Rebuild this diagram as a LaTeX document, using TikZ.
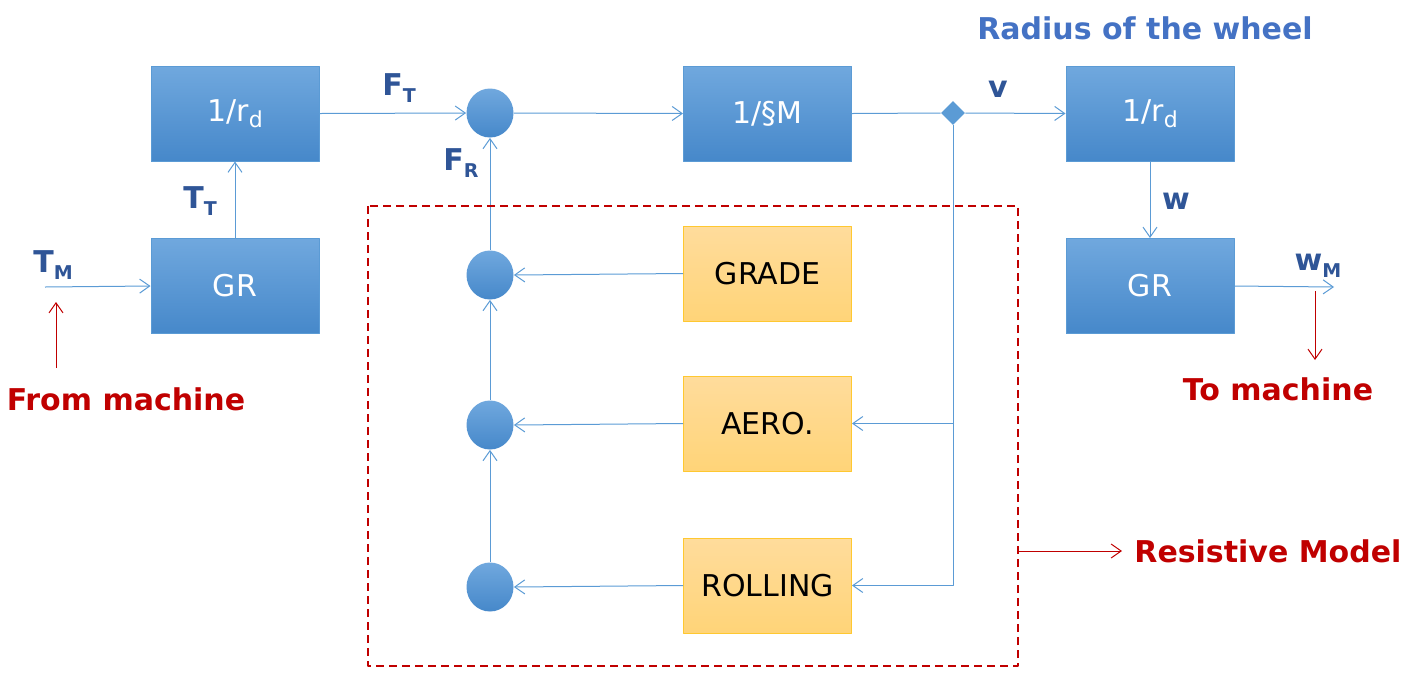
\documentclass[tikz,border=0pt]{standalone}
\usepackage{fontspec}
\setmainfont{DejaVu Sans}
\usetikzlibrary{arrows.meta,shapes.geometric}
\definecolor{lineblue}{HTML}{5B9BD5}
\definecolor{boxtop}{HTML}{70A8DE}
\definecolor{boxbot}{HTML}{4688CA}
\definecolor{yeltop}{HTML}{FFDC9C}
\definecolor{yelbot}{HTML}{FFD478}
\definecolor{yelrim}{HTML}{FFC830}
\definecolor{labblue}{HTML}{2F5597}
\definecolor{radblue}{HTML}{4472C4}
\definecolor{darkred}{HTML}{C00000}
\newcommand{\lbsub}[1]{\raisebox{-0.4ex}{\fontsize{9.5}{10}\selectfont #1}}
\newcommand{\bxsub}[1]{\raisebox{-0.4ex}{\fontsize{11}{12}\selectfont #1}}
\tikzset{
  bluebox/.style={rectangle, draw=lineblue, line width=0.5pt, top color=boxtop, bottom color=boxbot,
    minimum width=84pt, minimum height=47.5pt, inner sep=0pt, text=white, font=\fontsize{15}{18}\selectfont},
  yelbox/.style={rectangle, draw=yelrim, line width=0.5pt, top color=yeltop, bottom color=yelbot,
    minimum width=84pt, minimum height=47.5pt, inner sep=0pt, text=black, font=\fontsize{15}{18}\selectfont},
  sumnode/.style={ellipse, draw=none, top color=boxtop, bottom color=boxbot,
    minimum width=23.5pt, minimum height=24.5pt, inner sep=0pt},
  flow/.style={draw=lineblue, line width=0.5pt, -{Straight Barb[length=5pt,width=7pt]}},
  redflow/.style={draw=darkred, line width=0.5pt, -{Straight Barb[length=5pt,width=7pt]}},
  sig/.style={text=labblue, font=\bfseries\fontsize{15}{18}\selectfont},
  note/.style={text=darkred, font=\bfseries\fontsize{15}{18}\selectfont}
}
\begin{document}
\begin{tikzpicture}[x=0.5pt, y=-0.5pt, line join=round]
\useasboundingbox (0,0) rectangle (1409,687);
% blocks
\node[bluebox] (rdA) at (235,113.5) {1/r\bxsub{d}};
\node[bluebox] (grA) at (235,286) {GR};
\node[bluebox] (mass) at (767.5,113.5) {1/§M};
\node[bluebox] (rdB) at (1150,113.5) {1/r\bxsub{d}};
\node[bluebox] (grB) at (1150,286) {GR};
\node[yelbox] (grade) at (767.5,273.5) {GRADE};
\node[yelbox] (aero) at (767.5,423.5) {AERO.};
\node[yelbox] (roll) at (767.5,585.5) {ROLLING};
% summing points
\foreach \n/\y in {sA/113, sB/275, sC/425, sD/587}
  \node[sumnode] (\n) at (490,\y) {};
\node[diamond, fill=lineblue, minimum size=12pt, inner sep=0pt] (tap) at (953,113) {};
% free ends
\path (45,287) coordinate (tmin)
      (1334,287) coordinate (wmout)
      (56,368) coordinate (fmA) (56,302) coordinate (fmB)
      (1315,291) coordinate (tmA) (1315,360) coordinate (tmB)
      (1018,551) coordinate (resA);
% connectors
\draw[flow] (tmin) -- (grA.west);
\draw[flow] (grA) -- (rdA);
\draw[flow] (rdA.east) -- (sA.west);
\draw[flow] (sA.east) -- (mass.west);
\draw[lineblue, line width=0.5pt] (mass.east) -- (tap.west);
\draw[flow] (tap.east) -- (rdB.west);
\draw[flow] (rdB) -- (grB);
\draw[flow] (grB.east) -- (wmout);
\draw[flow] (tap.south) |- (roll.east);
\draw[flow] (tap.south |- aero.east) -- (aero.east);
\draw[flow] (grade.west) -- (sB.east);
\draw[flow] (aero.west) -- (sC.east);
\draw[flow] (roll.west) -- (sD.east);
\draw[flow] (sD) -- (sC);
\draw[flow] (sC) -- (sB);
\draw[flow] (sB) -- (sA);
% resistive model frame
\draw[darkred, line width=1pt, dash pattern=on 4pt off 2.5pt] (368,206) rectangle (1018,666);
% signal labels
\node[sig] (lFT) at (399,88) {F\lbsub{T}};
\node[sig] (lFR) at (461,163) {F\lbsub{R}};
\node[sig] (lTT) at (200,201) {T\lbsub{T}};
\node[sig] (lTM) at (53,265) {T\lbsub{M}};
\node[sig] (lv) at (998,89) {v};
\node[sig] (lw) at (1176,201) {w};
\node[sig] (lwM) at (1318,266) {w\lbsub{M}};
\node[text=radblue, font=\bfseries\fontsize{15}{18}\selectfont] (rad) at (1145,28) {Radius of the wheel};
% notes
\node[note] (from) at (126,399) {From machine};
\node[note] (to) at (1278,389) {To machine};
\node[note, anchor=west, inner sep=0pt] (resist) at (1134,551) {Resistive Model};
\draw[redflow] (fmA) -- (fmB);
\draw[redflow] (tmA) -- (tmB);
\draw[redflow] (resA) -- ([xshift=-6pt]resist.west);
\end{tikzpicture}
\end{document}
